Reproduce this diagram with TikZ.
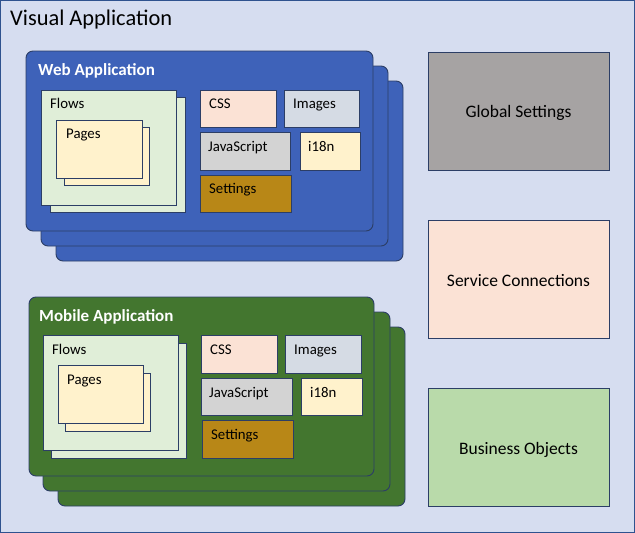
\documentclass[tikz,border=0pt]{standalone}
\usepackage{fontspec}
\setmainfont{Carlito}
\usetikzlibrary{fit}
\definecolor{bgc}{HTML}{D6DDF0}
\definecolor{outerc}{HTML}{2F528F}
\definecolor{edgec}{HTML}{2C3E66}
\definecolor{webc}{HTML}{3E62B9}
\definecolor{mobc}{HTML}{43762F}
\definecolor{flowc}{HTML}{E0EED8}
\definecolor{pagec}{HTML}{FFF2CC}
\definecolor{cssc}{HTML}{FBE2D5}
\definecolor{imgc}{HTML}{D5DBE4}
\definecolor{jsc}{HTML}{D3D3D3}
\definecolor{setc}{HTML}{B88717}
\definecolor{globc}{HTML}{A6A3A3}
\definecolor{busc}{HTML}{B9DAAA}
\begin{document}
\begin{tikzpicture}[x=1pt,y=-1pt,
  box/.style={draw=edgec, line width=0.9pt, inner sep=0pt},
  app/.style={box, rounded corners=7pt},
  lbl/.style={font=\fontsize{14.8}{17}\selectfont, inner sep=0pt, anchor=base west, text=black},
  applbl/.style={font=\fontsize{17}{20}\selectfont\bfseries, inner sep=0pt, anchor=base west, text=white},
  rbox/.style={box, minimum width=181pt, minimum height=118pt},
  rlbl/.style={font=\fontsize{17.5}{20}\selectfont, inner sep=0pt}]
\useasboundingbox (0,0) rectangle (635,533);
\node[draw=outerc, fill=bgc, line width=1.2pt, inner sep=0pt, fit={(0.6,0.6)(634.4,532.4)}] (frame) {};
\node[inner sep=0pt, anchor=base west, font=\fontsize{22.4}{26}\selectfont] (title) at (10,25) {Visual Application};

% ---------- Web application ----------
\node[app, fill=webc, fit={(56,81)(403,261)}] (w3) {};
\node[app, fill=webc, fit={(41,66)(388,246)}] (w2) {};
\node[app, fill=webc, fit={(26,51)(373,231)}] (w1) {};
\node[applbl] (wt) at (38,75) {Web Application};
\node[box, fill=flowc, fit={(50,97)(185,212)}] (wf2) {};
\node[box, fill=flowc, fit={(41,90)(176,205)}] (wf1) {};
\node[lbl] (wft) at (50,108) {Flows};
\node[box, fill=pagec, fit={(64,127)(149,185)}] (wp2) {};
\node[box, fill=pagec, fit={(56,120)(142,178)}] (wp1) {};
\node[lbl] (wpt) at (66,138) {Pages};
\node[box, fill=cssc, fit={(200,90)(276,127)}] (wcss) {};
\node[lbl] (wcsst) at (209,108) {CSS};
\node[box, fill=imgc, fit={(284,90)(359,127)}] (wimg) {};
\node[lbl] (wimgt) at (293,108) {Images};
\node[box, fill=jsc, fit={(200,132)(290,170)}] (wjs) {};
\node[lbl] (wjst) at (208,151) {JavaScript};
\node[box, fill=pagec, fit={(300,132)(360,170)}] (wi) {};
\node[lbl] (wit) at (308,151) {i18n};
\node[box, fill=setc, fit={(200,175)(291,212)}] (wset) {};
\node[lbl] (wsett) at (209,193) {Settings};

% ---------- Mobile application ----------
\node[app, fill=mobc, fit={(58,327)(405,506)}] (m3) {};
\node[app, fill=mobc, fit={(43,312)(390,491)}] (m2) {};
\node[app, fill=mobc, fit={(29,297)(374,476)}] (m1) {};
\node[applbl] (mt) at (39,321) {Mobile Application};
\node[box, fill=flowc, fit={(51,343)(186,458)}] (mf2) {};
\node[box, fill=flowc, fit={(43,335)(178,450)}] (mf1) {};
\node[lbl] (mft) at (52,354) {Flows};
\node[box, fill=pagec, fit={(65,373)(150,431)}] (mp2) {};
\node[box, fill=pagec, fit={(58,365)(143,423)}] (mp1) {};
\node[lbl] (mpt) at (67,384) {Pages};
\node[box, fill=cssc, fit={(201,335)(277,373)}] (mcss) {};
\node[lbl] (mcsst) at (210,354) {CSS};
\node[box, fill=imgc, fit={(285,335)(361,373)}] (mimg) {};
\node[lbl] (mimgt) at (294,354) {Images};
\node[box, fill=jsc, fit={(201,378)(292,415)}] (mjs) {};
\node[lbl] (mjst) at (209,397) {JavaScript};
\node[box, fill=pagec, fit={(301,378)(362,415)}] (mi) {};
\node[lbl] (mit) at (310,397) {i18n};
\node[box, fill=setc, fit={(202,420)(293,458)}] (mset) {};
\node[lbl] (msett) at (211,439) {Settings};

% ---------- Right column ----------
\node[rbox, fill=globc] (glob) at (518.5,111) {};
\node[rlbl] (globt) at ([yshift=-2pt]glob.center) {Global Settings};
\node[rbox, fill=cssc] (serv) at (518.5,279) {};
\node[rlbl] (servt) at ([yshift=-2pt]serv.center) {Service Connections};
\node[rbox, fill=busc] (bus) at (518.5,447.5) {};
\node[rlbl] (bust) at ([yshift=-2pt]bus.center) {Business Objects};
\end{tikzpicture}
\end{document}
